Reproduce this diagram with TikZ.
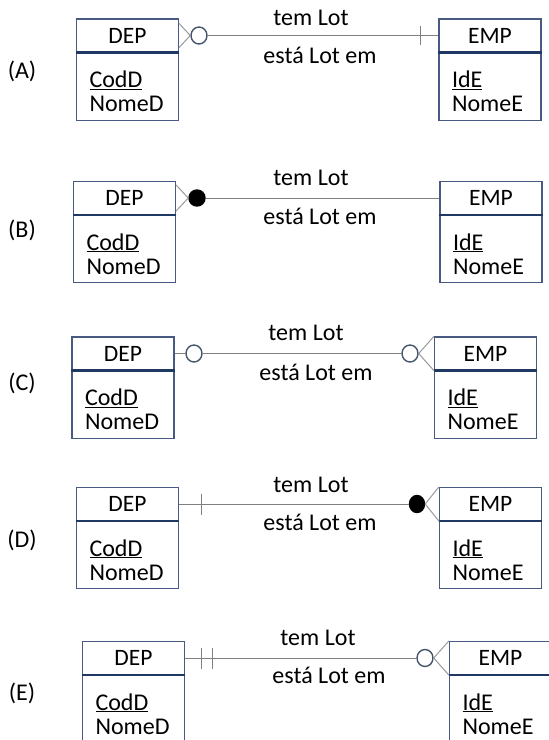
\documentclass[tikz,border=0pt]{standalone}
\usepackage{fontspec}
\setmainfont{Carlito}
\usepackage{tikz}
\usetikzlibrary{shapes.geometric}

\definecolor{boxblue}{HTML}{485A82}
\definecolor{sepblue}{HTML}{1F3864}
\definecolor{relgrey}{HTML}{808080}
\definecolor{markblue}{HTML}{44546A}

\begin{document}
\begin{tikzpicture}[x=1pt,y=-1pt,
    head/.style={draw=boxblue,line width=1.2pt,minimum width=102pt,minimum height=33pt,inner sep=0pt,font=\fontsize{23.5}{24}\selectfont},
    attrs/.style={draw=boxblue,line width=1.2pt,minimum width=102pt,minimum height=67pt,text width=76pt,inner xsep=13pt,inner ysep=0pt,align=left,font=\fontsize{24}{24}\selectfont,anchor=north},
    sep/.style={draw=sepblue,line width=2.4pt},
    rel/.style={draw=relgrey,line width=1pt},
    prong/.style={draw=relgrey!80,line width=1pt},
    opt/.style={ellipse,draw=markblue,line width=1.4pt,fill=white,minimum width=16pt,minimum height=17pt,inner sep=0pt},
    must/.style={opt,draw=black,fill=black},
    lbl/.style={anchor=base,inner sep=0pt,font=\fontsize{24}{24}\selectfont}]
\useasboundingbox (0,0) rectangle (549,740);

% (A)
\node[lbl] (labA) at (22,78) {(A)};
\node[head] (depA) at (127.5,35.5) {DEP};
\node[attrs] (depAb) at (depA.south) {\rule{0pt}{26pt}\underline{CodD}\\NomeD};
\draw[sep] (depAb.north west) -- (depAb.north east);
\node[head] (empA) at (490,35.5) {EMP};
\node[attrs] (empAb) at (empA.south) {\rule{0pt}{26pt}\underline{IdE}\\NomeE};
\draw[sep] (empAb.north west) -- (empAb.north east);
\node[opt] (oA) at (199,35.5) {};
\coordinate (barA) at (420,35.5);
\draw[prong] ([yshift=12pt]depA.east) -- (oA.west) -- ([yshift=-12pt]depA.east);
\path[rel] (oA) edge (empA);
\draw[rel] ([yshift=9.5pt]barA) -- ([yshift=-9.5pt]barA);
\node[lbl] (temA) at (311,25) {tem Lot};
\node[lbl] (estaA) at (320,63) {está Lot em};

% (B)
\node[lbl] (labB) at (22,237) {(B)};
\node[head] (depB) at (124.5,198) {DEP};
\node[attrs] (depBb) at (depB.south) {\rule{0pt}{26pt}\underline{CodD}\\NomeD};
\draw[sep] (depBb.north west) -- (depBb.north east);
\node[head] (empB) at (491,198) {EMP};
\node[attrs] (empBb) at (empB.south) {\rule{0pt}{26pt}\underline{IdE}\\NomeE};
\draw[sep] (empBb.north west) -- (empBb.north east);
\node[must,minimum width=16pt,minimum height=16pt] (fB) at (197,198) {};
\draw[prong] ([yshift=13pt]depB.east) -- (fB.west) -- ([yshift=-13pt]depB.east);
\path[rel] (fB) edge (empB);
\node[lbl] (temB) at (311,185) {tem Lot};
\node[lbl] (estaB) at (320,224) {está Lot em};

% (C)
\node[lbl] (labC) at (22,390) {(C)};
\node[head] (depC) at (123,353.5) {DEP};
\node[attrs] (depCb) at (depC.south) {\rule{0pt}{26pt}\underline{CodD}\\NomeD};
\draw[sep] (depCb.north west) -- (depCb.north east);
\node[head] (empC) at (485.5,353.5) {EMP};
\node[attrs] (empCb) at (empC.south) {\rule{0pt}{26pt}\underline{IdE}\\NomeE};
\draw[sep] (empCb.north west) -- (empCb.north east);
\node[opt] (oC) at (194,353.5) {};
\node[opt] (oCe) at (410,353.5) {};
\path[rel] (depC) edge (oC);
\path[rel] (oC) edge (oCe);
\draw[prong] (empC.north west) -- (oCe.east) -- (empC.south west);
\node[lbl] (temC) at (306,340) {tem Lot};
\node[lbl] (estaC) at (316,380) {está Lot em};

% (D)
\node[lbl] (labD) at (22,547) {(D)};
\node[head] (depD) at (127.5,504) {DEP};
\node[attrs] (depDb) at (depD.south) {\rule{0pt}{26pt}\underline{CodD}\\NomeD};
\draw[sep] (depDb.north west) -- (depDb.north east);
\node[head] (empD) at (490.5,504) {EMP};
\node[attrs] (empDb) at (empD.south) {\rule{0pt}{26pt}\underline{IdE}\\NomeE};
\draw[sep] (empDb.north west) -- (empDb.north east);
\node[must,minimum width=15pt] (fD) at (417,504) {};
\coordinate (barD) at (201,504);
\path[rel] (depD) edge (fD);
\draw[rel] ([yshift=10.5pt]barD) -- ([yshift=-10.5pt]barD);
\draw[prong] (empD.north west) -- (fD.east) -- (empD.south west);
\node[lbl] (temD) at (311,492) {tem Lot};
\node[lbl] (estaD) at (320,530) {está Lot em};

% (E)
\node[lbl] (labE) at (22,700) {(E)};
\node[head] (depE) at (133.5,658) {DEP};
\node[attrs] (depEb) at (depE.south) {\rule{0pt}{26pt}\underline{CodD}\\NomeD};
\draw[sep] (depEb.north west) -- (depEb.north east);
\node[head] (empE) at (500.5,658) {EMP};
\node[attrs] (empEb) at (empE.south) {\rule{0pt}{26pt}\underline{IdE}\\NomeE};
\draw[sep] (empEb.north west) -- (empEb.north east);
\node[opt] (oE) at (425,658) {};
\coordinate (barE1) at (201,658);
\coordinate (barE2) at (212,658);
\path[rel] (depE) edge (oE);
\draw[rel] ([yshift=10.5pt]barE1) -- ([yshift=-10.5pt]barE1);
\draw[rel] ([yshift=10.5pt]barE2) -- ([yshift=-10.5pt]barE2);
\draw[prong] (empE.north west) -- (oE.east) -- (empE.south west);
\node[lbl] (temE) at (318,645) {tem Lot};
\node[lbl] (estaE) at (329,683) {está Lot em};
\end{tikzpicture}
\end{document}
